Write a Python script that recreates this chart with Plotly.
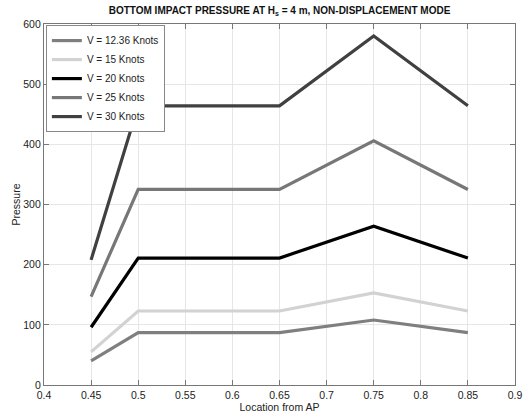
import plotly.graph_objects as go

locations = [0.45, 0.5, 0.65, 0.75, 0.85]
series_names = ["V = 12.36 Knots", "V = 15 Knots", "V = 20 Knots", "V = 25 Knots", "V = 30 Knots"]
p_12 = [40, 87, 87, 108, 87]
p_15 = [55, 123, 123, 153, 123]
p_20 = [96, 211, 211, 264, 211]
p_25 = [147, 325, 325, 406, 325]
p_30 = [208, 464, 464, 580, 464]
series_values = [p_12, p_15, p_20, p_25, p_30]
colors = ["#7f7f7f", "#d2d2d2", "#000000", "#777777", "#404040"]
x_ticks = [0.4, 0.45, 0.5, 0.55, 0.6, 0.65, 0.7, 0.75, 0.8, 0.85, 0.9]
x_tick_text = ["0.4", "0.45", "0.5", "0.55", "0.6", "0.65", "0.7", "0.75", "0.8", "0.85", "0.9"]
y_ticks = [0, 100, 200, 300, 400, 500, 600]

fig = go.Figure()
for name, vals, c in zip(series_names, series_values, colors):
    fig.add_trace(go.Scatter(x=locations, y=vals, mode="lines", name=name,
                             line=dict(color=c, width=3.2)))

font = "Liberation Sans, Arial, sans-serif"
fig.update_layout(
    width=525, height=418,
    margin=dict(l=44, r=10, t=24, b=33),
    paper_bgcolor="white", plot_bgcolor="white",
    font=dict(family=font, size=10, color="#222"),
    title=dict(text="<b>BOTTOM IMPACT PRESSURE AT H<sub>s</sub> = 4 m, NON-DISPLACEMENT MODE</b>",
               xref="paper", x=0.5, xanchor="center", y=0.983, yanchor="top",
               font=dict(family=font, size=10, color="#111")),
    showlegend=True,
    legend=dict(x=0.004, y=0.997, xanchor="left", yanchor="top",
                bgcolor="white", bordercolor="#888", borderwidth=1,
                font=dict(family=font, size=10, color="#222"),
                tracegroupgap=0, itemwidth=30),
    xaxis=dict(range=[0.4, 0.9], tickvals=x_ticks, ticktext=x_tick_text,
               showgrid=True, gridcolor="#e6e6e6", gridwidth=1,
               showline=True, linecolor="#777", linewidth=1.2, mirror="ticks",
               ticks="inside", ticklen=5, tickcolor="#777",
               zeroline=False, automargin=False,
               title=dict(text="Location from AP", standoff=0, font=dict(size=10.5)),
               tickfont=dict(size=10.5)),
    yaxis=dict(range=[0, 600], tickvals=y_ticks,
               showgrid=True, gridcolor="#e6e6e6", gridwidth=1,
               showline=True, linecolor="#777", linewidth=1.2, mirror="ticks",
               ticks="inside", ticklen=5, tickcolor="#777",
               zeroline=False, automargin=False,
               title=dict(text="Pressure", standoff=0, font=dict(size=10.5)),
               tickfont=dict(size=10.5)),
)
fig.write_html("out.html", config={"displayModeBar": False},
               post_script="document.body.style.margin='0';document.body.style.overflow='hidden';")
